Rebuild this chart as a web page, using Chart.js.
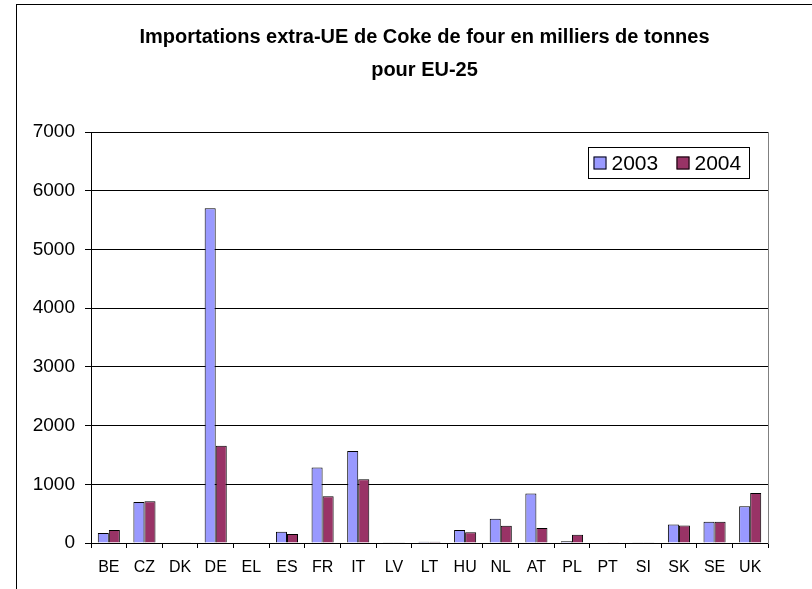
<!DOCTYPE html>
<html>
<head>
<meta charset="utf-8">
<script src="https://cdn.jsdelivr.net/npm/chart.js@4/dist/chart.umd.min.js"></script>
<style>
    html, body { margin: 0; padding: 0; overflow: hidden; background: #fff; }
    #wrap { width: 833px; height: 589px; }
</style>
</head>
<body>
<div id="wrap"><canvas id="chart" width="833" height="589"></canvas></div>
<script>
const categories = ['BE', 'CZ', 'DK', 'DE', 'EL', 'ES', 'FR', 'IT', 'LV', 'LT', 'HU', 'NL', 'AT', 'PL', 'PT', 'SI', 'SK', 'SE', 'UK'];
const seriesNames = ['2003', '2004'];
const imports2003 = [170, 700, 0, 5700, 10, 192, 1288, 1565, 5, 20, 220, 412, 842, 28, 0, 5, 316, 362, 627];
const imports2004 = [220, 712, 5, 1655, 0, 153, 797, 1085, 5, 20, 181, 294, 254, 141, 3, 5, 299, 362, 853];
const yTicks = [0, 1000, 2000, 3000, 4000, 5000, 6000, 7000];

const FONT = 'Arial, "Liberation Sans", sans-serif';

// white background and outer frame (the right/bottom sides fall outside the picture)
const framePlugin = {
    id: 'frame',
    beforeDraw(chart) {
        const ctx = chart.ctx;
        ctx.save();
        ctx.fillStyle = '#fff';
        ctx.fillRect(0, 0, chart.width, chart.height);
        ctx.strokeStyle = '#000';
        ctx.lineWidth = 1;
        ctx.strokeRect(16.5, 4.5, 900, 900);
        ctx.restore();
    }
};

// boxed legend inside the plot, top right
const boxLegend = {
    id: 'boxLegend',
    afterDraw(chart) {
        const ctx = chart.ctx;
        const x = 588.5, y = 147.5, w = 161, h = 31;
        ctx.save();
        ctx.fillStyle = '#fff';
        ctx.fillRect(x, y, w, h);
        ctx.strokeStyle = '#000';
        ctx.lineWidth = 1;
        ctx.strokeRect(x, y, w, h);
        ctx.font = '21px ' + FONT;
        ctx.textBaseline = 'middle';
        ctx.textAlign = 'left';
        const offsets = [5, 88];
        chart.data.datasets.forEach((ds, i) => {
            const sx = x + offsets[i];
            ctx.fillStyle = ds.backgroundColor;
            ctx.fillRect(sx, y + 9, 13, 13);
            ctx.strokeStyle = '#000';
            ctx.strokeRect(sx + 0.5, y + 9.5, 12, 12);
            ctx.fillStyle = '#000';
            ctx.fillText(ds.label, sx + 18, y + h / 2 + 1);
        });
        ctx.restore();
    }
};

const ctx = document.getElementById('chart').getContext('2d');
new Chart(ctx, {
    type: 'bar',
    data: {
        labels: categories,
        datasets: [
            {
                label: seriesNames[0],
                data: imports2003,
                backgroundColor: '#9999FF',
                borderColor: '#000',
                borderWidth: 1
            },
            {
                label: seriesNames[1],
                data: imports2004,
                backgroundColor: '#993366',
                borderColor: '#000',
                borderWidth: 1
            }
        ]
    },
    options: {
        responsive: false,
        animation: false,
        layout: { padding: { left: 16, right: 0, top: 0, bottom: 0 } },
        datasets: {
            bar: { categoryPercentage: 0.62, barPercentage: 1 }
        },
        plugins: {
            legend: { display: false },
            tooltip: { enabled: false },
            title: {
                display: true,
                text: ['Importations extra-UE de Coke de four en milliers de tonnes', 'pour EU-25'],
                color: '#000',
                font: { family: FONT, size: 20, weight: 'bold', lineHeight: 1.65 },
                padding: { top: 21, bottom: 45 }
            }
        },
        scales: {
            x: {
                offset: true,
                grid: {
                    offset: true,
                    drawOnChartArea: false,
                    drawTicks: true,
                    tickLength: 5,
                    color: '#000'
                },
                border: { display: true, color: '#000', width: 1 },
                ticks: {
                    color: '#000',
                    padding: 10,
                    maxRotation: 0,
                    autoSkip: false,
                    font: { family: FONT, size: 16 }
                },
                afterFit(scale) { scale.height = 46; }
            },
            y: {
                min: 0,
                max: 7000,
                afterBuildTicks(scale) {
                    scale.ticks = yTicks.map(v => ({ value: v }));
                },
                grid: {
                    color: '#000',
                    lineWidth: 1,
                    drawTicks: true,
                    tickLength: 6
                },
                border: { display: true, color: '#000', width: 1 },
                ticks: {
                    color: '#000',
                    padding: 10,
                    font: { family: FONT, size: 19 },
                    callback: value => String(value)
                },
                afterFit(scale) { scale.width = 75; }
            },
            // empty right axis: only its grey line, it also keeps the plot off the right edge
            yRight: {
                type: 'linear',
                position: 'right',
                min: 0,
                max: 7000,
                grid: { display: false },
                ticks: { display: false },
                border: { display: true, color: '#808080', width: 1 },
                afterFit(scale) { scale.width = 65; }
            }
        }
    },
    plugins: [framePlugin, boxLegend]
});
</script>
</body>
</html>
